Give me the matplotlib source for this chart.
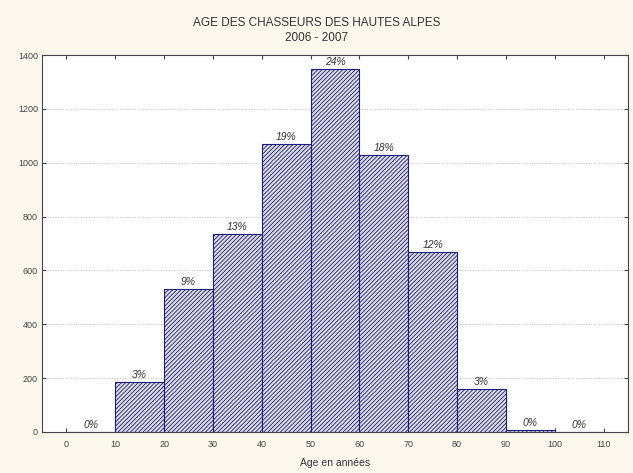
import numpy as np
import matplotlib
matplotlib.use('Agg')
import matplotlib.pyplot as plt

plt.rcParams['font.family'] = ['Liberation Sans', 'DejaVu Sans']
plt.rcParams['hatch.linewidth'] = 0.6
plt.rcParams['hatch.color'] = '#5a5a66'

# Data
bin_left = [0, 10, 20, 30, 40, 50, 60, 70, 80, 90, 100]
counts = [0, 186, 531, 735, 1069, 1348, 1029, 668, 160, 8, 0]
pct_labels = ['0%', '3%', '9%', '13%', '19%', '24%', '18%', '12%', '3%', '0%', '0%']
xticks = [0, 10, 20, 30, 40, 50, 60, 70, 80, 90, 100, 110]
yticks = [0, 200, 400, 600, 800, 1000, 1200, 1400]

fig = plt.figure(figsize=(6.33, 4.73), dpi=100)
fig.patch.set_facecolor('#fcf8ee')
ax = fig.add_axes([0.0664, 0.0867, 0.9256, 0.797])
ax.set_facecolor('white')

ax.bar(bin_left, counts, width=10, align='edge', color='#dcdce2',
       edgecolor='#1c1c7a', linewidth=0.8, hatch='////////', zorder=3)

for x, c, lab in zip(bin_left, counts, pct_labels):
    ax.text(x + 5, c + 8, lab, ha='center', va='bottom', fontsize=7.5,
            style='italic', color='#333333', zorder=4)

ax.set_xlim(-5, 115)
ax.set_ylim(0, 1400)
ax.set_xticks(xticks)
ax.set_yticks(yticks)
ax.tick_params(axis='both', direction='in', labelsize=6.5, length=3,
               top=True, right=True, colors='#444444', pad=6)
ax.tick_params(axis='y', pad=3)
ax.grid(axis='y', linestyle=':', color='#bbbbbb', linewidth=0.7, zorder=0)
for s in ax.spines.values():
    s.set_color('#444444')
    s.set_linewidth(0.8)

ax.set_xlabel('Age en années', fontsize=7.5, color='#333333', labelpad=6)
fig.text(0.5, 0.945, 'AGE DES CHASSEURS DES HAUTES ALPES', ha='center',
         fontsize=8.5, color='#333333')
fig.text(0.5, 0.913, '2006 - 2007', ha='center', fontsize=8.5, color='#333333')

fig.savefig('out.png', dpi=100, facecolor=fig.get_facecolor())
